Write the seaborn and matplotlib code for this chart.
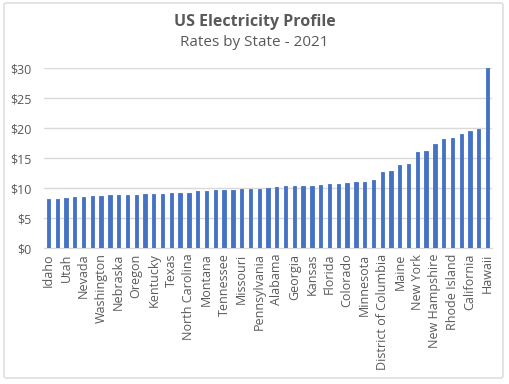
import numpy as np
import pandas as pd
import matplotlib
matplotlib.use("Agg")
import matplotlib.pyplot as plt
import seaborn as sns
from matplotlib.patches import FancyBboxPatch

# states sorted by average rate, 2021 (every other one is labelled on the chart)
states = ['Idaho', 'Wyoming', 'Utah', 'North Dakota', 'Nevada', 'Oklahoma',
          'Washington', 'Louisiana', 'Nebraska', 'Arkansas', 'Oregon', 'Iowa',
          'Kentucky', 'West Virginia', 'Texas', 'New Mexico', 'North Carolina',
          'Virginia', 'Montana', 'Mississippi', 'Tennessee', 'South Dakota',
          'Missouri', 'Indiana', 'Pennsylvania', 'Ohio', 'Alabama', 'Illinois',
          'Georgia', 'South Carolina', 'Kansas', 'Arizona', 'Florida', 'Delaware',
          'Colorado', 'Wisconsin', 'Minnesota', 'Maryland', 'District of Columbia',
          'Michigan', 'Maine', 'Vermont', 'New York', 'New Jersey', 'New Hampshire',
          'Alaska', 'Rhode Island', 'Massachusetts', 'California', 'Connecticut',
          'Hawaii']
rates = [8.22, 8.22, 8.39, 8.56, 8.56, 8.72, 8.72, 8.89, 8.89, 8.89, 8.89,
         9.06, 9.06, 9.06, 9.22, 9.22, 9.22, 9.56, 9.56, 9.72, 9.72, 9.72,
         9.89, 9.89, 9.89, 10.06, 10.22, 10.39, 10.39, 10.39, 10.39, 10.56,
         10.72, 10.72, 10.89, 11.06, 11.06, 11.39, 12.72, 12.89, 13.89, 14.06,
         16.06, 16.22, 17.39, 18.22, 18.39, 19.06, 19.56, 19.89, 30.0]
y_ticks = [0, 5, 10, 15, 20, 25, 30]

df = pd.DataFrame({'State': states, 'Rate': rates})

sns.set_style("white")
plt.rcParams['font.family'] = ['Open Sans', 'DejaVu Sans']

fig = plt.figure(figsize=(5.09, 3.84), dpi=100)
ax = fig.add_axes([44/509, 1 - 248/384, 448/509, 180/384])

sns.barplot(data=df, x='State', y='Rate', color='#4472C4', width=0.38,
            saturation=1, linewidth=0.6, edgecolor='#4472C4', ax=ax, zorder=3)

ax.set_xlim(-0.5, len(states) - 0.5)
ax.set_ylim(0, 30)
ax.set_yticks(y_ticks)
ax.set_yticklabels([f'${v}' for v in y_ticks])
ax.set_xticks(range(0, len(states), 2))
ax.set_xticklabels(states[::2], rotation=90)
ax.tick_params(axis='both', length=0, labelsize=9, colors='#595959')
ax.tick_params(axis='y', pad=9)
ax.tick_params(axis='x', pad=4)
ax.set_xlabel('')
ax.set_ylabel('')
ax.grid(axis='y', color='#D9D9D9', linewidth=1, zorder=0)
for s in ['top', 'right', 'left']:
    ax.spines[s].set_visible(False)
ax.spines['bottom'].set_color('#D9D9D9')

fig.text(0.5, 1 - 22/384, 'US Electricity Profile', ha='center', va='center',
         fontsize=11.5, fontweight='bold', color='#595959')
fig.text(0.5, 1 - 43/384, 'Rates by State - 2021', ha='center', va='center',
         fontsize=11, color='#595959')

border = FancyBboxPatch((4/509, 1 - 378/384), 499/509, 375/384,
                        boxstyle='round,pad=0,rounding_size=0.005',
                        transform=fig.transFigure, fill=False,
                        edgecolor='#D9D9D9', linewidth=1)
fig.patches.append(border)

fig.savefig('out.png', dpi=100)
